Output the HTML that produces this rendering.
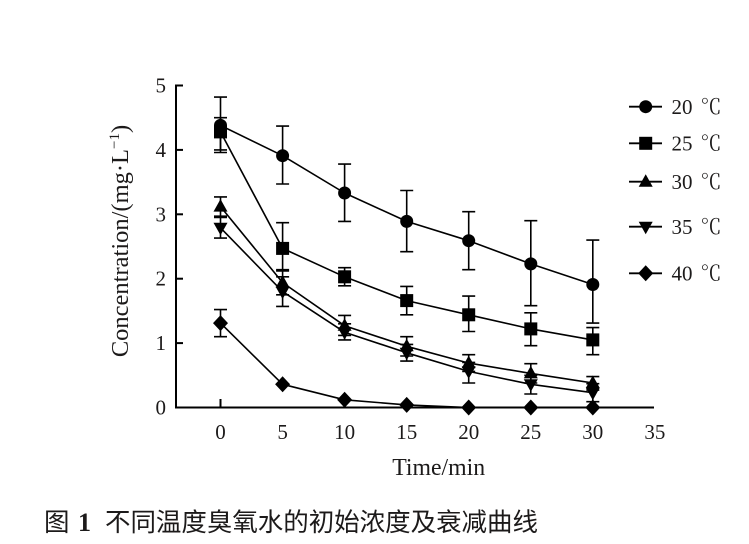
<!DOCTYPE html>
<html><head><meta charset="utf-8"><style>
html,body{margin:0;padding:0;background:#fff;}
svg{display:block;}
text{font-family:"Liberation Serif","Noto Serif CJK SC",serif;fill:#1c1a1a;}
.cjk{font-family:"Noto Sans CJK SC","WenQuanYi Zen Hei",sans-serif;}
.deg{font-family:"Noto Serif CJK SC","Noto Sans CJK SC",serif;}
</style></head><body>
<svg width="749" height="544" viewBox="0 0 749 544" xmlns="http://www.w3.org/2000/svg">
<defs>
<circle id="mc" r="6.5" fill="#000"/>
<rect id="ms" x="-6.5" y="-6.5" width="13" height="13" fill="#000"/>
<polygon id="mt" points="0,-7.5 7,5 -7,5" fill="#000"/>
<polygon id="mv" points="0,7.5 7,-5 -7,-5" fill="#000"/>
<polygon id="md" points="0,-8 7.5,0 0,8 -7.5,0" fill="#000"/>
</defs>
<rect width="749" height="544" fill="#fff"/>

<g stroke="#000" stroke-width="2" fill="none">
<line x1="176" y1="84.5" x2="176" y2="408.5"/>
<line x1="175" y1="407.5" x2="654" y2="407.5"/>
<line x1="176" y1="85.5" x2="183" y2="85.5"/>
<line x1="176" y1="149.9" x2="183" y2="149.9"/>
<line x1="176" y1="214.3" x2="183" y2="214.3"/>
<line x1="176" y1="278.7" x2="183" y2="278.7"/>
<line x1="176" y1="343.1" x2="183" y2="343.1"/>
<line x1="220.5" y1="399" x2="220.5" y2="407"/>
</g>

<g font-size="21" text-anchor="end">
<text x="166" y="92.5">5</text>
<text x="166" y="156.9">4</text>
<text x="166" y="221.3">3</text>
<text x="166" y="285.7">2</text>
<text x="166" y="350.1">1</text>
<text x="166" y="414.5">0</text>
</g>
<g font-size="21" text-anchor="middle">
<text x="220.5" y="439">0</text>
<text x="282.6" y="439">5</text>
<text x="344.6" y="439">10</text>
<text x="406.7" y="439">15</text>
<text x="468.7" y="439">20</text>
<text x="530.8" y="439">25</text>
<text x="592.8" y="439">30</text>
<text x="654.9" y="439">35</text>
</g>

<text x="438.7" y="475" font-size="24" text-anchor="middle" textLength="93" lengthAdjust="spacingAndGlyphs">Time/min</text>
<text transform="translate(128,241) rotate(-90)" font-size="24.5" text-anchor="middle">Concentration/(mg·L<tspan dy="-9" font-size="15">−1</tspan><tspan dy="9">)</tspan></text>

<g stroke="#000" stroke-width="1.6" fill="none">
<path d="M220.5,97.1V152.5M214,97.1H227M214,152.5H227
M282.6,126.1V184M276.1,126.1H289.1M276.1,184H289.1
M344.6,164.1V221.4M338.1,164.1H351.1M338.1,221.4H351.1
M406.7,190.5V251.7M400.2,190.5H413.2M400.2,251.7H413.2
M468.7,211.7V269.7M462.2,211.7H475.2M462.2,269.7H475.2
M530.8,220.7V305.7M524.3,220.7H537.3M524.3,305.7H537.3
M592.8,240.1V323.1M586.3,240.1H599.3M586.3,323.1H599.3"/>
<path d="M220.5,117.7V149.9M214,117.7H227M214,149.9H227
M282.6,222.7V271M276.1,222.7H289.1M276.1,271H289.1
M344.6,267.7V285.8M338.1,267.7H351.1M338.1,285.8H351.1
M406.7,286.4V314.8M400.2,286.4H413.2M400.2,314.8H413.2
M468.7,296.1V331.5M462.2,296.1H475.2M462.2,331.5H475.2
M530.8,312.8V345.7M524.3,312.8H537.3M524.3,345.7H537.3
M592.8,327.6V354.7M586.3,327.6H599.3M586.3,354.7H599.3"/>
<path d="M220.5,196.9V216.2M214,196.9H227M214,216.2H227
M282.6,269.7V294.8M276.1,269.7H289.1M276.1,294.8H289.1
M344.6,315.4V335.4M338.1,315.4H351.1M338.1,335.4H351.1
M406.7,336.7V356M400.2,336.7H413.2M400.2,356H413.2
M468.7,354.7V371.4M462.2,354.7H475.2M462.2,371.4H475.2
M530.8,363.7V383M524.3,363.7H537.3M524.3,383H537.3
M592.8,376.6V390.1M586.3,376.6H599.3M586.3,390.1H599.3"/>
<path d="M220.5,217.5V238.1M214,217.5H227M214,238.1H227
M282.6,276.8V306.4M276.1,276.8H289.1M276.1,306.4H289.1
M344.6,323.8V339.9M338.1,323.8H351.1M338.1,339.9H351.1
M406.7,344.4V361.1M400.2,344.4H413.2M400.2,361.1H413.2
M468.7,362.4V383M462.2,362.4H475.2M462.2,383H475.2
M530.8,375.3V394M524.3,375.3H537.3M524.3,394H537.3
M592.8,383.7V401.7M586.3,383.7H599.3M586.3,401.7H599.3"/>
<path d="M220.5,309.6V336.7M214,309.6H227M214,336.7H227"/>
</g>

<g stroke="#000" stroke-width="1.6" fill="none" stroke-linejoin="round">
<polyline points="220.5,125.4 282.6,155.7 344.6,193 406.7,221.4 468.7,240.7 530.8,263.9 592.8,284.5"/>
<polyline points="220.5,131.9 282.6,248.4 344.6,276.8 406.7,300.6 468.7,314.8 530.8,328.9 592.8,339.9"/>
<polyline points="220.5,206.6 282.6,282.6 344.6,325.7 406.7,346.3 468.7,363.1 530.8,373.4 592.8,383"/>
<polyline points="220.5,227.8 282.6,291.6 344.6,332.2 406.7,352.8 468.7,371.4 530.8,384.3 592.8,392.7"/>
<polyline points="220.5,323.1 282.6,384.3 344.6,399.8 406.7,404.9 468.7,407.5 530.8,407.5 592.8,407.5"/>
</g>

<g>
<use href="#ms" x="220.5" y="131.9"/><use href="#ms" x="282.6" y="248.4"/><use href="#ms" x="344.6" y="276.8"/><use href="#ms" x="406.7" y="300.6"/><use href="#ms" x="468.7" y="314.8"/><use href="#ms" x="530.8" y="328.9"/><use href="#ms" x="592.8" y="339.9"/>
<use href="#mc" x="220.5" y="125.4"/><use href="#mc" x="282.6" y="155.7"/><use href="#mc" x="344.6" y="193"/><use href="#mc" x="406.7" y="221.4"/><use href="#mc" x="468.7" y="240.7"/><use href="#mc" x="530.8" y="263.9"/><use href="#mc" x="592.8" y="284.5"/>
<use href="#mt" x="220.5" y="206.6"/><use href="#mt" x="282.6" y="282.6"/><use href="#mt" x="344.6" y="325.7"/><use href="#mt" x="406.7" y="346.3"/><use href="#mt" x="468.7" y="363.1"/><use href="#mt" x="530.8" y="373.4"/><use href="#mt" x="592.8" y="383"/>
<use href="#mv" x="220.5" y="227.8"/><use href="#mv" x="282.6" y="291.6"/><use href="#mv" x="344.6" y="332.2"/><use href="#mv" x="406.7" y="352.8"/><use href="#mv" x="468.7" y="371.4"/><use href="#mv" x="530.8" y="384.3"/><use href="#mv" x="592.8" y="392.7"/>
<use href="#md" x="220.5" y="323.1"/><use href="#md" x="282.6" y="384.3"/><use href="#md" x="344.6" y="399.8"/><use href="#md" x="406.7" y="404.9"/><use href="#md" x="468.7" y="407.5"/><use href="#md" x="530.8" y="407.5"/><use href="#md" x="592.8" y="407.5"/>
</g>

<g stroke="#000" stroke-width="1.8">
<line x1="629" y1="106.7" x2="662" y2="106.7"/>
<line x1="629" y1="143.3" x2="662" y2="143.3"/>
<line x1="629" y1="181.7" x2="662" y2="181.7"/>
<line x1="629" y1="226.7" x2="662" y2="226.7"/>
<line x1="629" y1="273.3" x2="662" y2="273.3"/>
</g>
<use href="#mc" x="645.7" y="106.7"/>
<use href="#ms" x="645.7" y="143.3"/>
<use href="#mt" x="645.7" y="181.7"/>
<use href="#mv" x="645.7" y="226.7"/>
<use href="#md" x="645.7" y="273.3"/>
<g font-size="21">
<text x="671.5" y="114">20</text><text class="deg" x="700.5" y="114" textLength="21" lengthAdjust="spacingAndGlyphs">℃</text>
<text x="671.5" y="150.6">25</text><text class="deg" x="700.5" y="150.6" textLength="21" lengthAdjust="spacingAndGlyphs">℃</text>
<text x="671.5" y="189">30</text><text class="deg" x="700.5" y="189" textLength="21" lengthAdjust="spacingAndGlyphs">℃</text>
<text x="671.5" y="234">35</text><text class="deg" x="700.5" y="234" textLength="21" lengthAdjust="spacingAndGlyphs">℃</text>
<text x="671.5" y="280.6">40</text><text class="deg" x="700.5" y="280.6" textLength="21" lengthAdjust="spacingAndGlyphs">℃</text>
</g>

<text class="cjk" x="44" y="531" font-size="25.5">图</text>
<text x="78" y="531" font-size="26" font-weight="bold">1</text>
<text class="cjk" x="105" y="531" font-size="25.5" textLength="433" lengthAdjust="spacing">不同温度臭氧水的初始浓度及衰减曲线</text>
</svg>
</body></html>
